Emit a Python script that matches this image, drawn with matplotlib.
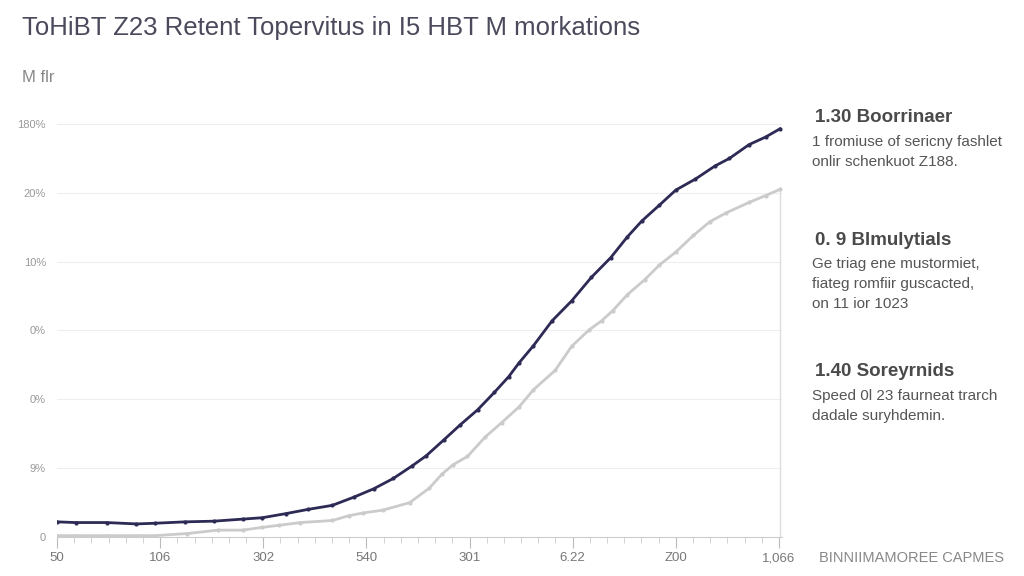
import matplotlib.pyplot as plt
from matplotlib.ticker import MultipleLocator

# values (x in tick-index units, y in gridline units)
dark_x = [0.0, 0.18, 0.48, 0.77, 0.95, 1.24, 1.52, 1.80, 1.99, 2.22, 2.43, 2.67, 2.88,
          3.07, 3.26, 3.44, 3.58, 3.75, 3.91, 4.08, 4.24, 4.38, 4.48, 4.62, 4.80, 4.99,
          5.18, 5.37, 5.53, 5.67, 5.84, 6.00, 6.19, 6.38, 6.52, 6.71, 6.87, 7.01]
dark_y = [0.22, 0.21, 0.21, 0.19, 0.20, 0.22, 0.23, 0.26, 0.28, 0.34, 0.40, 0.46, 0.58,
          0.70, 0.85, 1.03, 1.18, 1.41, 1.63, 1.85, 2.10, 2.33, 2.53, 2.78, 3.14, 3.43,
          3.77, 4.06, 4.36, 4.59, 4.82, 5.04, 5.20, 5.39, 5.50, 5.70, 5.81, 5.93]

grey_x = [0.0, 0.18, 0.48, 0.77, 0.95, 1.26, 1.56, 1.80, 1.99, 2.15, 2.36, 2.67, 2.83,
          2.97, 3.16, 3.42, 3.61, 3.73, 3.84, 3.98, 4.15, 4.31, 4.48, 4.62, 4.83, 4.99,
          5.16, 5.28, 5.39, 5.53, 5.70, 5.84, 6.00, 6.17, 6.33, 6.49, 6.71, 6.87, 7.01]
grey_y = [0.02, 0.02, 0.02, 0.02, 0.02, 0.05, 0.10, 0.10, 0.14, 0.17, 0.21, 0.24, 0.31,
          0.35, 0.39, 0.50, 0.71, 0.91, 1.05, 1.17, 1.45, 1.66, 1.89, 2.14, 2.42, 2.77,
          3.01, 3.14, 3.29, 3.52, 3.74, 3.95, 4.14, 4.38, 4.58, 4.71, 4.86, 4.96, 5.05]

x_labels = ["50", "106", "302", "540", "301", "6.22", "Z00", "1,066"]
y_labels = ["0", "9%", "0%", "0%", "10%", "20%", "180%"]

notes = [
    ("1.30 Boorrinaer", ["1 fromiuse of sericny fashlet", "onlir schenkuot Z188."]),
    ("0. 9 Blmulytials", ["Ge triag ene mustormiet,", "fiateg romfiir guscacted,", "on 11 ior 1023"]),
    ("1.40 Soreyrnids", ["Speed 0l 23 faurneat trarch", "dadale suryhdemin."]),
]

plt.rcParams['font.family'] = ['Liberation Sans', 'DejaVu Sans']

fig = plt.figure(figsize=(10.24, 5.76), dpi=100)
ax = fig.add_axes([0.0557, 0.0677, 0.708, 0.729])

ax.plot(grey_x, grey_y, color='#cbcbcb', lw=2, marker='o', ms=2, zorder=2)
ax.plot(dark_x, dark_y, color='#2d2a55', lw=2, marker='o', ms=2, zorder=3)
# right edge rule down from the grey series end
ax.plot([grey_x[-1], grey_x[-1]], [0, grey_y[-1]], color='#dddddd', lw=1, zorder=1)

ax.set_xlim(0, 7.03)
ax.set_ylim(0, 6.1)
ax.set_yticks(range(len(y_labels)))
ax.set_yticklabels(y_labels)
ax.set_xticks(range(len(x_labels)))
ax.set_xticklabels(x_labels)
ax.xaxis.set_minor_locator(MultipleLocator(1 / 6))

for y in range(1, len(y_labels)):
    ax.axhline(y, color='#eeeeee', lw=0.8, zorder=0)

for s in ['top', 'right', 'left']:
    ax.spines[s].set_visible(False)
ax.spines['bottom'].set_color('#cccccc')
ax.tick_params(axis='y', length=0, labelsize=8, labelcolor='#999999', pad=8)
ax.tick_params(axis='x', which='major', length=8, color='#bbbbbb', labelsize=9.5,
               labelcolor='#777777', pad=3)
ax.tick_params(axis='x', which='minor', length=4, color='#cccccc')

fig.text(0.021, 0.951, "ToHiBT Z23 Retent Topervitus in I5 HBT M morkations",
         fontsize=18.5, color='#4a4a5c', va='center')
fig.text(0.021, 0.865, "M flr", fontsize=12, color='#888888', va='center')
fig.text(0.80, 0.031, "BINNIIMAMOREE CAPMES", fontsize=10.5, color='#888888', va='center')

tops = [118, 240, 372]
for (head, lines), top in zip(notes, tops):
    fig.text(815 / 1024, 1 - top / 576, head, fontsize=13.5, color='#4a4a4a',
             va='center', fontweight='bold')
    for i, line in enumerate(lines):
        fig.text(812 / 1024, 1 - (top + 24 + i * 20) / 576, line, fontsize=11,
                 color='#555555', va='center')

fig.savefig("out.png", dpi=100, facecolor='white')
